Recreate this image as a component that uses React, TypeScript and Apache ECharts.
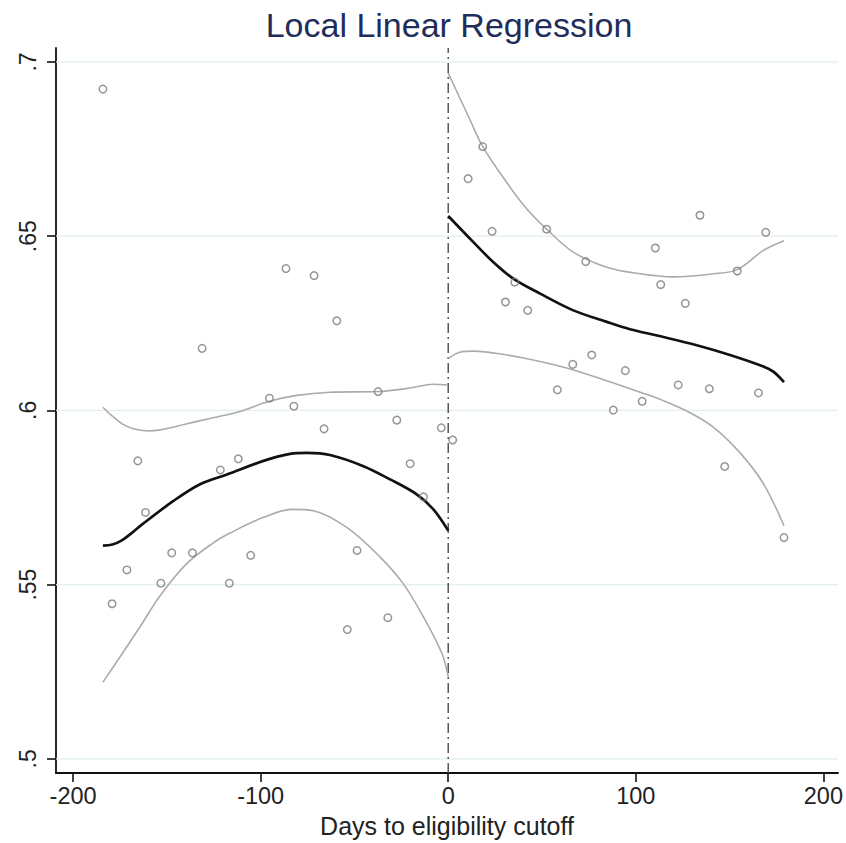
import React, { useEffect, useRef } from "react";
import * as echarts from "echarts";

const titleText = "Local Linear Regression";
const xAxisName = "Days to eligibility cutoff";
const xTicks = [-200, -100, 0, 100, 200];
const yTicks = [0.5, 0.55, 0.6, 0.65, 0.7];
const xMin = -209.1;
const xMax = 207.8;
const yMin = 0.4959;
const yMax = 0.704;
const cutoff = 0;

const scatterX = [-184.1, -179.2, -171.3, -165.5, -161.4, -153.2, -147.4, -136.4, -131.2, -121.5, -116.7, -111.9, -105.3, -95.3, -86.5, -82.3, -71.5, -66.2, -59.4, -53.8, -48.6, -37.4, -32.2, -27.4, -20.3, -13.2, -3.7, 2.4, 10.6, 18.4, 23.4, 30.5, 35.5, 42.4, 52.5, 58.2, 66.4, 73.3, 76.5, 88.0, 94.4, 103.4, 110.4, 113.3, 122.6, 126.4, 134.2, 139.2, 147.4, 154.1, 165.4, 169.3, 179.0];
const scatterY = [0.6922, 0.5445, 0.5542, 0.5855, 0.5707, 0.5504, 0.5591, 0.5591, 0.6178, 0.5829, 0.5504, 0.5861, 0.5584, 0.6035, 0.6407, 0.6012, 0.6387, 0.5947, 0.6257, 0.5371, 0.5598, 0.6054, 0.5405, 0.5972, 0.5847, 0.5752, 0.5950, 0.5915, 0.6665, 0.6757, 0.6514, 0.6311, 0.6368, 0.6287, 0.6520, 0.6059, 0.6132, 0.6427, 0.6159, 0.6001, 0.6114, 0.6026, 0.6466, 0.6361, 0.6073, 0.6307, 0.6560, 0.6062, 0.5839, 0.6400, 0.6050, 0.6511, 0.5635];

const leftFitX = [-184.1, -179.0, -174.0, -169.0, -164.3, -146.5, -132.3, -118.0, -98.5, -84.3, -75.4, -63.0, -45.2, -31.0, -16.8, -7.9, 0];
const leftFitY = [0.5612, 0.5615, 0.5627, 0.5647, 0.5668, 0.5740, 0.5788, 0.5816, 0.5855, 0.5875, 0.5878, 0.5872, 0.5840, 0.5802, 0.5759, 0.5716, 0.5655];

const leftUpX = [-184.1, -180.0, -174.0, -168.0, -160.0, -153.6, -137.6, -121.6, -111.0, -95.3, -80.7, -63.0, -37.4, -20.3, -7.9, 0];
const leftUpY = [0.6009, 0.5988, 0.5962, 0.5947, 0.5941, 0.5944, 0.5964, 0.5983, 0.5997, 0.6026, 0.6043, 0.6052, 0.6054, 0.6064, 0.6075, 0.6073];

const leftLoX = [-184.1, -174.9, -164.3, -153.6, -139.4, -125.2, -116.3, -98.5, -83.4, -71.9, -54.1, -36.3, -23.9, -13.2, -3.4, 0];
const leftLoY = [0.5220, 0.5293, 0.5379, 0.5468, 0.5560, 0.5620, 0.5648, 0.5693, 0.5716, 0.5712, 0.5664, 0.5579, 0.5502, 0.5407, 0.5303, 0.5236];

const rightFitX = [0, 13.4, 24.1, 34.7, 49.0, 66.7, 84.5, 96.9, 112.0, 132.5, 150.2, 168.0, 173.3, 179.0];
const rightFitY = [0.6558, 0.6483, 0.6425, 0.6378, 0.6335, 0.6287, 0.6254, 0.6233, 0.6214, 0.6187, 0.6159, 0.6126, 0.6111, 0.6081];

const rightUpX = [0, 11.6, 18.4, 31.2, 41.9, 52.5, 66.7, 84.5, 102.3, 120.0, 141.3, 154.1, 168.0, 179.0];
const rightUpY = [0.6968, 0.6834, 0.6757, 0.6654, 0.6578, 0.6520, 0.6454, 0.6411, 0.6392, 0.6383, 0.6392, 0.6404, 0.6459, 0.6487];

const rightLoX = [0, 6.3, 13.4, 31.2, 49.0, 66.7, 84.5, 102.3, 114.7, 127.2, 141.3, 155.6, 168.0, 179.0];
const rightLoY = [0.6149, 0.6167, 0.6170, 0.6159, 0.6140, 0.6116, 0.6085, 0.6052, 0.6028, 0.5998, 0.5952, 0.5878, 0.5790, 0.5669];

const zip = (xs: number[], ys: number[]) => xs.map((x, i) => [x, ys[i]]);

const FONT = "'Liberation Sans', Arial, Helvetica, sans-serif";

export default function App() {
  const ref = useRef<HTMLDivElement>(null);
  useEffect(() => {
    document.body.style.margin = "0";
    const chart = echarts.init(ref.current!, null, { renderer: "svg" });
    const fitLine = (name: string, xs: number[], ys: number[]) => ({
      name,
      type: "line",
      data: zip(xs, ys),
      showSymbol: false,
      symbol: "none",
      smooth: 0.35,
      z: 5,
      lineStyle: { color: "#111111", width: 2.7 },
    });
    const ciLine = (name: string, xs: number[], ys: number[]) => ({
      name,
      type: "line",
      data: zip(xs, ys),
      showSymbol: false,
      symbol: "none",
      smooth: 0.35,
      z: 4,
      lineStyle: { color: "#ababab", width: 1.6 },
    });
    const gridSeries = yTicks.map((v, i) => ({
      name: "grid" + i,
      type: "line",
      data: [[xMin, v], [xMax, v]],
      showSymbol: false,
      symbol: "none",
      silent: true,
      z: 1,
      lineStyle: { color: "#e2eef0", width: 1.2 },
    }));
    chart.setOption({
      animation: false,
      backgroundColor: "#ffffff",
      title: {
        text: titleText,
        left: 444,
        top: 3,
        textAlign: "center",
        textStyle: { color: "#1f2d5b", fontSize: 34, fontWeight: "normal", fontFamily: FONT },
      },
      grid: { left: 56, right: 8, top: 48, bottom: 66, containLabel: false },
      xAxis: {
        type: "value",
        min: xMin,
        max: xMax,
        name: xAxisName,
        nameLocation: "middle",
        nameGap: 36,
        nameTextStyle: { color: "#222222", fontSize: 25, fontFamily: FONT },
        axisLine: { show: true, onZero: false, lineStyle: { color: "#111111", width: 1.8 } },
        axisTick: { show: true, length: 9, customValues: xTicks, lineStyle: { color: "#111111", width: 1.6 } },
        axisLabel: { customValues: xTicks, fontSize: 23.5, color: "#222222", margin: 11, fontFamily: FONT },
        splitLine: { show: false },
      },
      yAxis: {
        type: "value",
        min: yMin,
        max: yMax,
        axisLine: { show: true, onZero: false, lineStyle: { color: "#111111", width: 1.8 } },
        axisTick: { show: true, length: 9, customValues: yTicks, lineStyle: { color: "#111111", width: 1.6 } },
        axisLabel: {
          customValues: yTicks,
          rotate: 90,
          fontSize: 23,
          color: "#222222",
          margin: 17,
          fontFamily: FONT,
          formatter: (v: number) => String(Math.round(v * 100) / 100).replace(/^0/, ""),
        },
        splitLine: { show: false },
      },
      series: [
        ...gridSeries,
        {
          name: "cutoff",
          type: "line",
          data: [[cutoff, yMin], [cutoff, yMax]],
          showSymbol: false,
          symbol: "none",
          silent: true,
          z: 2,
          lineStyle: { color: "#555555", width: 1.5, type: [10, 4, 2, 4] },
        },
        ciLine("leftUpper", leftUpX, leftUpY),
        ciLine("leftLower", leftLoX, leftLoY),
        ciLine("rightUpper", rightUpX, rightUpY),
        ciLine("rightLower", rightLoX, rightLoY),
        fitLine("leftFit", leftFitX, leftFitY),
        fitLine("rightFit", rightFitX, rightFitY),
        {
          name: "bins",
          type: "scatter",
          data: zip(scatterX, scatterY),
          symbol: "circle",
          symbolSize: 7.5,
          z: 6,
          itemStyle: { color: "rgba(255,255,255,0)", borderColor: "#7c7c7c", borderWidth: 1.5 },
        },
      ],
    });
    return () => chart.dispose();
  }, []);
  return <div ref={ref} style={{ width: 846, height: 843 }} />;
}
